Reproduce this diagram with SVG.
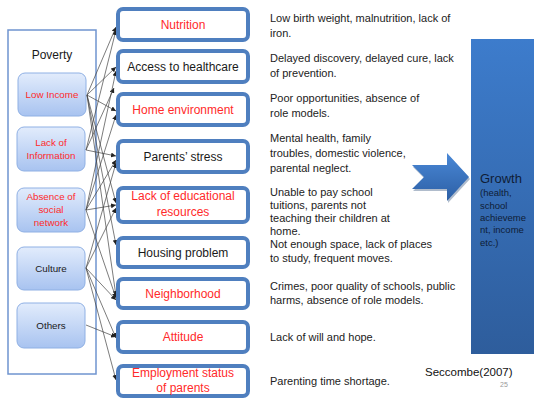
<svg xmlns="http://www.w3.org/2000/svg" width="534" height="398" viewBox="0 0 534 398">
<defs>
<linearGradient id="lb" x1="0" y1="0" x2="0" y2="1"><stop offset="0" stop-color="#e2ecfc"/><stop offset="1" stop-color="#a8c3f0"/></linearGradient>
<linearGradient id="gb" x1="0" y1="0" x2="0" y2="1"><stop offset="0" stop-color="#3d7ccc"/><stop offset="1" stop-color="#2e5d9c"/></linearGradient>
<linearGradient id="ab" x1="0" y1="0" x2="0" y2="1"><stop offset="0" stop-color="#4a88d6"/><stop offset="1" stop-color="#2c5fa5"/></linearGradient>
<marker id="ah" viewBox="0 0 10 10" refX="10" refY="5" markerWidth="5" markerHeight="5" orient="auto" markerUnits="userSpaceOnUse"><path d="M0,0 L10,5 L0,10 Z" fill="#222"/></marker>
<style>
.src rect{fill:url(#lb);stroke:#8fb0e4;stroke-width:1}
.mid rect{fill:#fff;stroke:#4f7fbf;stroke-width:4}
.t{font-family:"Liberation Sans",Arial,sans-serif;text-anchor:middle}
.s{font-size:9.8px}
.m{font-size:12px}
.red{fill:#ff2a2a}
.blk{fill:#1a1a1a}
.d{font-family:"Liberation Sans",Arial,sans-serif;font-size:11px;fill:#222}
#conn line{stroke:#444;stroke-width:0.7;marker-end:url(#ah)}
</style>
</defs>
<rect width="534" height="398" fill="#fff"/>

<g id="poverty">
<rect x="8" y="30" width="88" height="344" fill="#fff" stroke="#6f94cf" stroke-width="1.5"/>
<text class="t blk" x="52" y="59" font-size="12">Poverty</text>
</g>
<g id="low-income" class="src"><rect x="18" y="73" width="68" height="43" rx="7"/><text class="t s red" x="52" y="98">Low Income</text></g>
<g id="lack-info" class="src"><rect x="17" y="127" width="68" height="44" rx="7"/><text class="t s red" x="51" y="146">Lack of</text><text class="t s red" x="51" y="159">Information</text></g>
<g id="absence" class="src"><rect x="17" y="188" width="68" height="44" rx="7"/><text class="t s red" x="51" y="200">Absence of</text><text class="t s red" x="51" y="213">social</text><text class="t s red" x="51" y="226">network</text></g>
<g id="culture" class="src"><rect x="17" y="247" width="68" height="43" rx="7"/><text class="t s blk" x="51" y="272">Culture</text></g>
<g id="others" class="src"><rect x="17" y="303" width="68" height="45" rx="7"/><text class="t s blk" x="51" y="329">Others</text></g>

<g id="conn">
<line x1="87" y1="95" x2="116" y2="27"/>
<line x1="87" y1="95" x2="116" y2="67"/>
<line x1="87" y1="95" x2="116" y2="111"/>
<line x1="87" y1="95" x2="116" y2="203"/>
<line x1="87" y1="95" x2="116" y2="245"/>
<line x1="87" y1="95" x2="116" y2="296"/>
<line x1="86" y1="150" x2="116" y2="30"/>
<line x1="86" y1="150" x2="114" y2="88"/>
<line x1="86" y1="150" x2="116" y2="156"/>
<line x1="86" y1="210" x2="116" y2="71"/>
<line x1="86" y1="210" x2="116" y2="115"/>
<line x1="86" y1="210" x2="116" y2="160"/>
<line x1="86" y1="210" x2="116" y2="205"/>
<line x1="86" y1="210" x2="116" y2="298"/>
<line x1="86" y1="268" x2="116" y2="163"/>
<line x1="86" y1="268" x2="116" y2="208"/>
<line x1="86" y1="268" x2="116" y2="300"/>
<line x1="86" y1="268" x2="116" y2="338"/>
<line x1="86" y1="268" x2="116" y2="380"/>
<line x1="86" y1="325" x2="116" y2="337"/>
</g>

<g id="nutrition" class="mid"><rect x="118" y="9" width="130" height="31" rx="5"/><text class="t m red" x="183" y="29">Nutrition</text></g>
<g id="access" class="mid"><rect x="118" y="51" width="130" height="31" rx="5"/><text class="t m blk" x="183" y="71">Access to healthcare</text></g>
<g id="home" class="mid"><rect x="118" y="94" width="130" height="31" rx="5"/><text class="t m red" x="183" y="114">Home environment</text></g>
<g id="stress" class="mid"><rect x="118" y="141" width="130" height="31" rx="5"/><text class="t m blk" x="183" y="161">Parents’ stress</text></g>
<g id="edu" class="mid"><rect x="118" y="188" width="130" height="34" rx="5"/><text class="t m red" x="183" y="200">Lack of educational</text><text class="t m red" x="183" y="216">resources</text></g>
<g id="housing" class="mid"><rect x="118" y="238" width="130" height="29" rx="5"/><text class="t m blk" x="183" y="257">Housing problem</text></g>
<g id="neighborhood" class="mid"><rect x="118" y="279" width="130" height="29" rx="5"/><text class="t m red" x="183" y="298">Neighborhood</text></g>
<g id="attitude" class="mid"><rect x="118" y="322" width="130" height="30" rx="5"/><text class="t m red" x="183" y="341">Attitude</text></g>
<g id="employment" class="mid"><rect x="118" y="366" width="130" height="30" rx="5"/><text class="t m red" x="183" y="377">Employment status</text><text class="t m red" x="183" y="392">of parents</text></g>

<g id="descriptions">
<text class="d" x="270" y="22">Low birth weight, malnutrition, lack of</text>
<text class="d" x="270" y="37">iron.</text>
<text class="d" x="270" y="62">Delayed discovery, delayed cure, lack</text>
<text class="d" x="270" y="77">of prevention.</text>
<text class="d" x="270" y="102">Poor opportunities, absence of</text>
<text class="d" x="270" y="117">role models.</text>
<text class="d" x="270" y="142">Mental health, family</text>
<text class="d" x="270" y="157">troubles, domestic violence,</text>
<text class="d" x="270" y="172">parental neglect.</text>
<text class="d" x="270" y="196">Unable to pay school</text>
<text class="d" x="270" y="209">tuitions, parents not</text>
<text class="d" x="270" y="222">teaching their children at</text>
<text class="d" x="270" y="235">home.</text>
<text class="d" x="270" y="248">Not enough space,  lack of places</text>
<text class="d" x="270" y="262">to study, frequent moves.</text>
<text class="d" x="270" y="290">Crimes, poor quality of schools, public</text>
<text class="d" x="270" y="304">harms, absence of role models.</text>
<text class="d" x="270" y="341">Lack of will and hope.</text>
<text class="d" x="270" y="385">Parenting time shortage.</text>
</g>

<g id="arrow">
<polygon points="413,167 448,167 448,155 470,179 448,203 448,191 413,191 425,179" fill="#1e3f6e" opacity="0.35"/>
<polygon points="412,165 447,165 447,153 469,177 447,201 447,189 412,189 424,177" fill="url(#ab)"/>
</g>

<g id="growth">
<rect x="471" y="39" width="70" height="315" fill="url(#gb)"/>
<text font-family="'Liberation Sans',Arial,sans-serif" font-size="13" fill="#0f1d36" x="480" y="183">Growth</text>
<g font-family="'Liberation Sans',Arial,sans-serif" font-size="9.5" fill="#0f1d36">
<text x="480" y="196">(health,</text>
<text x="480" y="209">school</text>
<text x="480" y="221">achieveme</text>
<text x="480" y="233">nt, income</text>
<text x="480" y="246">etc.)</text>
</g>
</g>

<text font-family="'Liberation Sans',Arial,sans-serif" font-size="11.5" fill="#111" x="425" y="376">Seccombe(2007)</text>
<text font-family="'Liberation Sans',Arial,sans-serif" font-size="7" fill="#999" x="500" y="387">25</text>
</svg>
